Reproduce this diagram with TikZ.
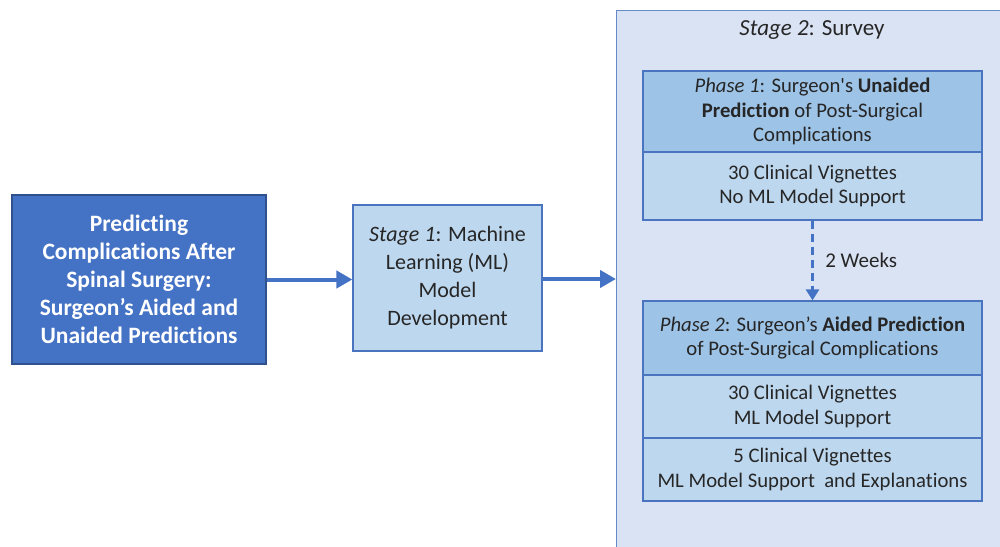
\documentclass[tikz,border=0pt]{standalone}
\usepackage{fontspec}
\setmainfont{Carlito}[Ligatures={NoCommon}]
\usetikzlibrary{arrows.meta}
\definecolor{dblue}{HTML}{4472C4}
\definecolor{dbord}{HTML}{2F528F}
\definecolor{lblue}{HTML}{BDD7EE}
\definecolor{mblue}{HTML}{9DC3E6}
\definecolor{pblue}{HTML}{DAE3F3}
\definecolor{bord}{HTML}{4A74C0}
\definecolor{txt}{HTML}{262626}
\tikzset{
  box/.style={draw=bord, line width=1.2pt, inner sep=0pt, align=center, text=txt,
    font=\fontsize{22}{28}\selectfont},
  rbox/.style={box, font=\fontsize{20.7}{24.5}\selectfont},
  conn/.style={draw=dblue, line width=4pt, -{Triangle[length=16pt,width=17pt]}},
  dconn/.style={draw=dblue, line width=3pt, dash pattern=on 8pt off 5pt, -{Triangle[length=11pt,width=13pt]}},
}
\begin{document}
\begin{tikzpicture}[x=1pt,y=-1pt]
\useasboundingbox (0,0) rectangle (1000,546);
\clip (0,0) rectangle (1000,546);
\node[box, draw=dbord, fill=dblue, text=white, font=\bfseries\fontsize{23.5}{28}\selectfont,
  minimum width=254pt, minimum height=169pt] (intro) at (139,279.5)
  {Predicting\\Complications After\\Spinal Surgery:\\Surgeon’s Aided and\\Unaided Predictions};
\node[box, fill=lblue, minimum width=189pt, minimum height=146pt] (s1) at (447.5,278)
  {\textit{Stage 1}: Machine\\Learning (ML)\\Model\\Development};
\node[box, draw=bord!85, line width=1pt, fill=pblue, minimum width=400pt, minimum height=546pt, anchor=north west] (s2) at (616,10) {};
\node[text=txt, font=\fontsize{23}{24.5}\selectfont] (s2t) at (812,30) {\textit{Stage 2}: Survey};
\node[rbox, fill=mblue, minimum width=339pt, minimum height=81pt] (p1h) at (812.5,111.5)
  {\textit{Phase 1}: Surgeon\textquotesingle s \textbf{Unaided}\\\textbf{Prediction} of Post-Surgical\\Complications};
\node[rbox, fill=lblue, minimum width=339pt, minimum height=68pt] (p1b) at (812.5,186)
  {30 Clinical Vignettes\\No ML Model Support};
\node[rbox, fill=mblue, minimum width=339pt, minimum height=74pt] (p2h) at (812.5,338)
  {\textit{Phase 2}: Surgeon’s \textbf{Aided Prediction}\\of Post-Surgical Complications};
\node[rbox, fill=lblue, minimum width=339pt, minimum height=63pt] (p2a) at (812.5,406.5)
  {30 Clinical Vignettes\\ML Model Support};
\node[rbox, fill=lblue, minimum width=339pt, minimum height=63pt] (p2b) at (812.5,469.5)
  {5 Clinical Vignettes\\ML Model Support\ \ and Explanations};
\draw[conn] (intro.east) -- (intro.east -| s1.west);
\draw[conn] (s1.east |- 0,279) -- (s2.west |- 0,279);
\draw[dconn] (p1b.south) -- node[right=8pt, text=txt, font=\fontsize{21}{24.5}\selectfont] (wk) {2 Weeks} (p2h.north);
\end{tikzpicture}
\end{document}
